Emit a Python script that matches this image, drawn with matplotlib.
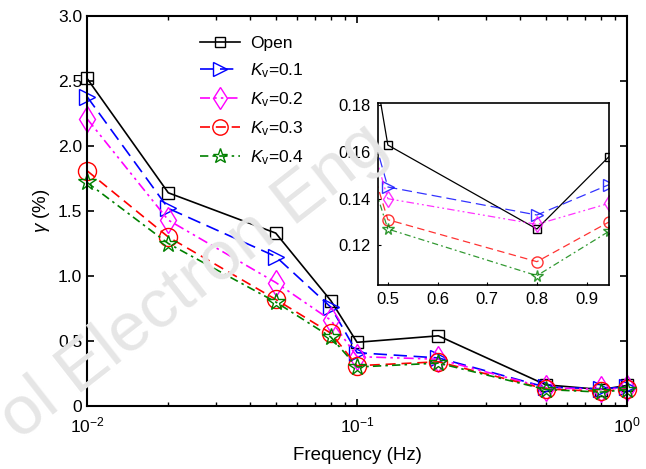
import matplotlib
matplotlib.use('Agg')
import matplotlib.pyplot as plt
from matplotlib.ticker import FuncFormatter, LogLocator, NullFormatter

plt.rcParams['font.family'] = ['Liberation Sans', 'DejaVu Sans']
plt.rcParams['mathtext.fontset'] = 'custom'
plt.rcParams['mathtext.rm'] = 'Liberation Sans'
plt.rcParams['mathtext.it'] = 'Liberation Sans:italic'

# data
freq = [0.01, 0.02, 0.05, 0.08, 0.1, 0.2, 0.5, 0.8, 1.0]
open_ = [2.52, 1.64, 1.33, 0.81, 0.49, 0.54, 0.163, 0.127, 0.158]
kv01 = [2.38, 1.52, 1.15, 0.76, 0.41, 0.37, 0.145, 0.133, 0.146]
kv02 = [2.21, 1.43, 0.95, 0.66, 0.38, 0.36, 0.140, 0.129, 0.138]
kv03 = [1.81, 1.30, 0.82, 0.56, 0.31, 0.34, 0.131, 0.113, 0.130]
kv04 = [1.72, 1.25, 0.80, 0.53, 0.30, 0.33, 0.127, 0.107, 0.126]

# inset shows the last points (last one drawn at ~0.945)
inset_freq = [0.2, 0.5, 0.8, 0.945]

labels = ['Open', r'$K_\mathrm{v}$=0.1', r'$K_\mathrm{v}$=0.2',
          r'$K_\mathrm{v}$=0.3', r'$K_\mathrm{v}$=0.4']
series = [open_, kv01, kv02, kv03, kv04]
colors = ['#000000', '#0000ff', '#ff00ff', '#ff0000', '#008000']
markers = ['s', '>', 'd', 'o', '*']
msizes = [9, 12, 13, 13, 13]
in_msizes = [6, 8, 8, 8, 8.5]
styles = ['-', (0, (8, 4)), (0, (6, 2.5, 1.5, 2.5, 1.5, 2.5)), (0, (6, 3.5)), (0, (5, 2.5, 1.5, 2.5))]

fig = plt.figure(figsize=(6.46, 4.69), dpi=100)

fig.text(0.30, 0.40, 'ol Electron Eng', fontsize=50, color='#e6e6e6',
         rotation=38, ha='center', va='center', zorder=0)

ax = fig.add_axes([0.1347, 0.1343, 0.836, 0.8316])
ax.patch.set_alpha(0)
for vals, c, m, ms, ls, lab in zip(series, colors, markers, msizes, styles, labels):
    ax.plot(freq, vals, color=c, marker=m, markersize=ms, markerfacecolor='none',
            markeredgecolor=c, linestyle=ls, linewidth=1.2, label=lab, clip_on=False)

ax.set_xscale('log')
ax.set_xlim(0.01, 1.0)
ax.set_ylim(0, 3.0)
ax.set_yticks([0, 0.5, 1.0, 1.5, 2.0, 2.5, 3.0])
ax.yaxis.set_major_formatter(FuncFormatter(lambda v, p: '0' if v == 0 else f'{v:.1f}'))
ax.xaxis.set_minor_locator(LogLocator(base=10, subs=range(2, 10)))
ax.xaxis.set_minor_formatter(NullFormatter())
ax.tick_params(which='both', direction='in', top=True, right=True, labelsize=12.5)
ax.tick_params(which='major', length=5, width=1.2)
ax.tick_params(which='minor', length=3, width=1.0)
ax.tick_params(axis='x', pad=7)
for s in ax.spines.values():
    s.set_linewidth(1.5)
ax.set_xlabel('Frequency (Hz)', fontsize=13.5, labelpad=8)
ax.set_ylabel(r'$\gamma$ (%)', fontsize=13.5, labelpad=4)

leg = ax.legend(loc='upper left', bbox_to_anchor=(0.18, 0.99), frameon=False,
                fontsize=12.5, handlelength=2.3, labelspacing=0.6, handletextpad=0.6,
                markerscale=0.85)

# inset
axin = fig.add_axes([0.585, 0.3923, 0.3576, 0.388])
inset_idx = [5, 6, 7, 8]
for vals, c, m, ms, ls in zip(series, colors, markers, in_msizes, styles):
    yv = [vals[i] for i in inset_idx]
    axin.plot(inset_freq, yv, color=c, marker=m, markersize=ms, markerfacecolor='none',
              markeredgecolor=c, linestyle=ls, linewidth=0.9,
              alpha=1.0 if c == '#000000' else 0.8)
axin.set_xlim(0.48, 0.945)
axin.set_ylim(0.103, 0.181)
axin.set_xticks([0.5, 0.6, 0.7, 0.8, 0.9])
axin.set_yticks([0.12, 0.14, 0.16, 0.18])
axin.tick_params(direction='in', length=2, labelsize=12, pad=5)
for s in axin.spines.values():
    s.set_linewidth(1.2)

fig.savefig('out.png', dpi=100)
